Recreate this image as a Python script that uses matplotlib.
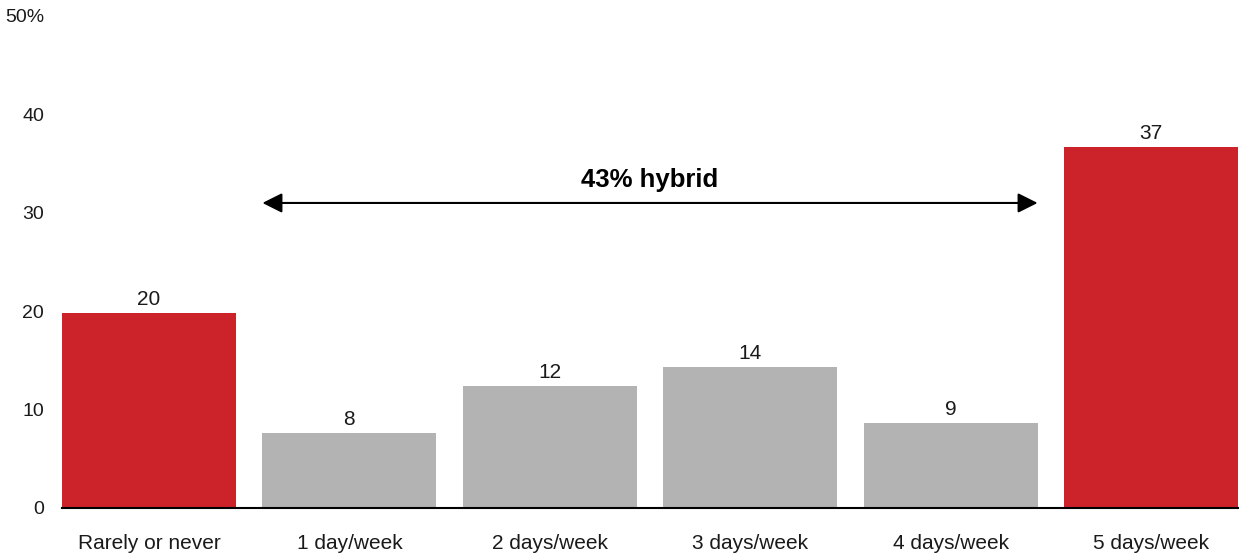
import numpy as np
import matplotlib
matplotlib.use('Agg')
import matplotlib.pyplot as plt

plt.rcParams['font.family'] = ['Liberation Sans', 'DejaVu Sans']

categories = ['Rarely or never', '1 day/week', '2 days/week', '3 days/week',
              '4 days/week', '5 days/week']
values = [19.8, 7.6, 12.4, 14.3, 8.6, 36.7]
hybrid = [False, True, True, True, True, False]
yticks = [0, 10, 20, 30, 40, 50]
ytick_labels = ['0', '10', '20', '30', '40', '50%']
hybrid_label = '43% hybrid'

red = '#CC2229'
grey = '#B3B3B3'
width = 0.868

fig = plt.figure(figsize=(12.39, 5.59), dpi=100)
ax = fig.add_axes([62 / 1239, 51 / 559, 1177 / 1239, 492 / 559])

x = np.arange(len(categories))
colors = [grey if h else red for h in hybrid]
bars = ax.bar(x, values, width=width, color=colors, zorder=2)

for xi, v in zip(x, values):
    ax.annotate(f'{round(v)}', xy=(xi, v), xytext=(0, 6), textcoords='offset points',
                ha='center', va='baseline', fontsize=15, color='#1a1a1a')

# arrow across the hybrid bars
idx = [i for i, h in enumerate(hybrid) if h]
x0 = idx[0] - width / 2
x1 = idx[-1] + width / 2
ax.annotate('', xy=(x1, 31), xytext=(x0, 31),
            arrowprops=dict(arrowstyle='<|-|>', color='black', lw=1.5,
                            mutation_scale=30, shrinkA=0, shrinkB=0))
ax.text((x0 + x1) / 2, 32.6, hybrid_label, ha='center', va='baseline',
        fontsize=18.5, fontweight='bold', color='black')

ax.set_xlim(-0.434, 5.439)
ax.set_ylim(0, 50)
ax.set_xticks(x)
ax.set_xticklabels(categories, fontsize=15, color='#1a1a1a')
ax.set_yticks(yticks)
ax.set_yticklabels(ytick_labels, fontsize=14, color='#1a1a1a')
ax.tick_params(axis='both', length=0)
ax.tick_params(axis='x', pad=19)
ax.tick_params(axis='y', pad=13)

for s in ['top', 'right', 'left']:
    ax.spines[s].set_visible(False)
ax.spines['bottom'].set_linewidth(1.5)
ax.spines['bottom'].set_zorder(3)

fig.savefig('out.png', dpi=100)
